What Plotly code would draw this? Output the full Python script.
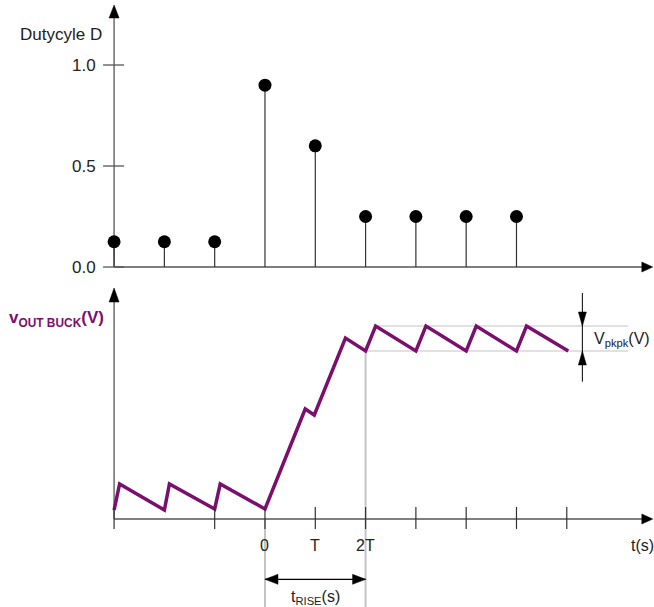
import plotly.graph_objects as go

# ---------------- data ----------------
t_samples = [-3, -2, -1, 0, 1, 2, 3, 4, 5]
duty = [0.125, 0.125, 0.125, 0.9, 0.6, 0.25, 0.25, 0.25, 0.25]
duty_ticks = [0.0, 0.5, 1.0]
duty_tick_labels = ["0.0", "0.5", "1.0"]

t_wave = [-3.0, -2.89, -2.0, -1.9, -1.0, -0.89, 0.0, 0.8, 0.98, 1.6, 2.0,
          2.2, 3.0, 3.2, 4.0, 4.2, 5.0, 5.2, 6.03]
v_wave = [0.09, 0.35, 0.09, 0.35, 0.10, 0.35, 0.10, 1.10, 1.04, 1.81, 1.68,
          1.93, 1.68, 1.93, 1.68, 1.93, 1.68, 1.93, 1.68]

time_ticks = [-3, -1, 0, 1, 2, 3, 4, 5, 6]
time_label_pos = [0, 1, 2]
time_labels = ["0", "T", "2T"]

v_peak = 1.93
v_trough = 1.68
t_rise_start = 0
t_rise_end = 2
t_steady_peak = 2.2

# ---------------- styling ----------------
PURPLE = "#7B0F6E"
AXIS = "#555555"
GREY = "#c4c4c4"
FONT = "Liberation Sans, Arial, sans-serif"

X_RANGE = [-5.268, 7.734]
Y1_RANGE = [-1.683, 1.3218]
Y2_RANGE = [-0.88, 5.19]
T_AXIS_END = 7.55
T_ARROW_TIP = 7.71
T_GREY_END = 7.22

fig = go.Figure()

# stems
sx, sy = [], []
for t, d in zip(t_samples, duty):
    sx += [t, t, None]
    sy += [0, d, None]
fig.add_trace(go.Scatter(x=sx, y=sy, mode="lines", xaxis="x", yaxis="y",
                         line=dict(color="#333333", width=1.2), hoverinfo="skip"))
fig.add_trace(go.Scatter(x=t_samples, y=duty, mode="markers", xaxis="x", yaxis="y",
                         marker=dict(color="black", size=13), hoverinfo="skip"))

# waveform
fig.add_trace(go.Scatter(x=t_wave, y=v_wave, mode="lines", xaxis="x", yaxis="y2",
                         line=dict(color=PURPLE, width=3.5), hoverinfo="skip"))

shapes = []


def line(x0, y0, x1, y1, yref, color=AXIS, width=1.3):
    shapes.append(dict(type="line", xref="x", yref=yref, x0=x0, y0=y0, x1=x1, y1=y1,
                       line=dict(color=color, width=width), layer="below"))


def head(x, y, yref, direction, length=13, half=5):
    if direction == "up":
        p = f"M0,0 L{-half},{-length} L{half},{-length} Z"
    elif direction == "down":
        p = f"M0,0 L{-half},{length} L{half},{length} Z"
    elif direction == "right":
        p = f"M0,0 L{-length},{half} L{-length},{-half} Z"
    else:
        p = f"M0,0 L{length},{half} L{length},{-half} Z"
    shapes.append(dict(type="path", xref="x", yref=yref, xsizemode="pixel",
                       ysizemode="pixel", xanchor=x, yanchor=y, path=p,
                       fillcolor="black", line=dict(color="black", width=0.5)))


# grey reference lines (bottom)
shapes.append(dict(type="line", xref="x", yref="paper", x0=t_rise_start, x1=t_rise_start,
                   y0=0, y1=0.145, line=dict(color=GREY, width=2), layer="below"))
line(t_rise_end, v_trough, t_rise_end, Y2_RANGE[0], "y2", GREY, 2)
line(t_steady_peak, v_peak, T_GREY_END, v_peak, "y2", GREY, 1.2)
line(t_rise_end, v_trough, T_GREY_END, v_trough, "y2", GREY, 1.2)

# top axes
line(t_samples[0], 0, t_samples[0], 1.25, "y")
head(t_samples[0], 1.297, "y", "up")
line(t_samples[0], 0, T_AXIS_END, 0, "y")
head(T_ARROW_TIP, 0, "y", "right", 11, 5)
for d in duty_ticks:
    shapes.append(dict(type="line", xref="x", yref="y", xsizemode="pixel", xanchor=t_samples[0],
                       x0=-11, x1=10, y0=d, y1=d, line=dict(color=AXIS, width=1.3)))

# bottom axes
line(time_ticks[0], 0, time_ticks[0], 2.2, "y2")
head(time_ticks[0], 2.31, "y2", "up", 14, 5)
line(time_ticks[0], 0, T_AXIS_END, 0, "y2")
head(T_ARROW_TIP, 0, "y2", "right", 11, 5)
for t in time_ticks:
    shapes.append(dict(type="line", xref="x", yref="y2", ysizemode="pixel", yanchor=0,
                       x0=t, x1=t, y0=-10, y1=12, line=dict(color="#333333", width=1.2)))

# V pk-pk arrow
t_pk = 6.31
line(t_pk, 2.26, t_pk, 1.373, "y2", "black", 1)
head(t_pk, v_peak, "y2", "down", 14, 4)
head(t_pk, v_trough, "y2", "up", 14, 4)

# t_rise arrow
v_rise = -0.603
line(t_rise_start, v_rise, t_rise_end, v_rise, "y2", "black", 1.2)
head(t_rise_start, v_rise, "y2", "left", 13, 5)
head(t_rise_end, v_rise, "y2", "right", 13, 5)

annotations = []


def text(x, y, s, yref, size=16, color="#222222", xanchor="center", xshift=0, yshift=0):
    annotations.append(dict(x=x, y=y, xref="x", yref=yref, text=s, showarrow=False,
                            xanchor=xanchor, yanchor="middle", xshift=xshift, yshift=yshift,
                            font=dict(family=FONT, size=size, color=color)))


text(t_samples[0], 1.149, "Dutycyle D", "y", 17, xanchor="right", xshift=-10)
for d, lab in zip(duty_ticks, duty_tick_labels):
    text(t_samples[0], d, lab, "y", 17, xanchor="right", xshift=-16)

text(time_ticks[0], 2.0, "<b>v<sub>OUT BUCK</sub>(V)</b>", "y2", 17, PURPLE,
     xanchor="right", xshift=-8)
for t, lab in zip(time_label_pos, time_labels):
    text(t, 0, lab, "y2", 16, yshift=-26)
text(7.5, 0, "t(s)", "y2", 16, yshift=-26)
text((t_rise_start + t_rise_end) / 2, v_rise, "t<sub>RISE</sub>(s)", "y2", 16, yshift=-18)
text(6.5, 1.80, "V<sub>pkpk</sub>(V)", "y2", 16, xanchor="left")

fig.update_layout(
    width=654, height=607, margin=dict(l=0, r=0, t=0, b=0),
    paper_bgcolor="white", plot_bgcolor="white", showlegend=False,
    xaxis=dict(range=X_RANGE, visible=False, domain=[0, 1]),
    yaxis=dict(range=Y1_RANGE, visible=False, domain=[0, 1]),
    yaxis2=dict(range=Y2_RANGE, visible=False, overlaying="y", domain=[0, 1]),
    shapes=shapes, annotations=annotations,
)

fig.write_html("out.html")
